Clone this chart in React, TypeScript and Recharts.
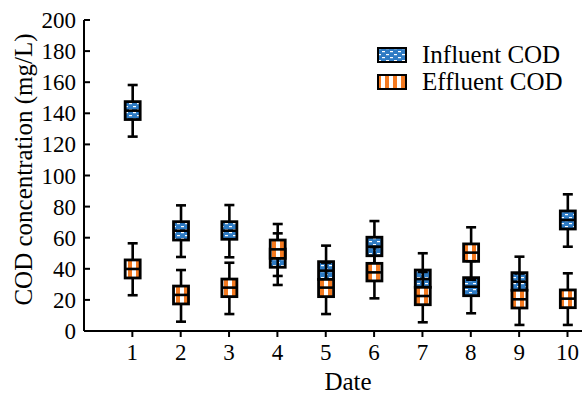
import React from 'react';
import { ComposedChart, Bar, XAxis, YAxis } from 'recharts';

// COD box statistics per sampling date (mg/L)
const days = [1, 2, 3, 4, 5, 6, 7, 8, 9, 10];

const influentMin = [125, 47.6, 47.4, 29.6, 25, 38, 20, 11.4, 16, 54.2];
const influentQ1 = [136, 58.5, 59, 41, 33.2, 48.4, 28.1, 22.7, 26.2, 65.6];
const influentMedian = [141.7, 64.5, 64.5, 47, 38.8, 54.2, 33.4, 28.5, 31.7, 71.4];
const influentQ3 = [147.5, 70.3, 70.3, 52.7, 44.6, 60.3, 39.2, 34.3, 37.5, 77.2];
const influentMax = [158.2, 80.8, 81, 62.8, 54.9, 70.7, 50, 45, 47.8, 87.9];

const effluentMin = [23, 6, 10.9, 35.4, 10.9, 21, 5.6, 33, 3.9, 3.9];
const effluentQ1 = [34.1, 17.4, 22.1, 46.7, 22.1, 32.2, 16.9, 44.8, 14.8, 15];
const effluentMedian = [39.9, 23.2, 27.9, 52.5, 27.9, 37.7, 22.5, 50.4, 20.4, 20.8];
const effluentQ3 = [45.7, 28.9, 33.4, 58.5, 33.2, 43.5, 28.1, 56, 26.2, 26.4];
const effluentMax = [56.4, 39.2, 43.9, 68.8, 44, 54, 38, 66.7, 37, 37.1];

const yTicks = [0, 20, 40, 60, 80, 100, 120, 140, 160, 180, 200];

const data = days.map((day, i) => ({
  day,
  inMin: influentMin[i],
  inQ1: influentQ1[i],
  inMed: influentMedian[i],
  inQ3: influentQ3[i],
  inMax: influentMax[i],
  efMin: effluentMin[i],
  efQ1: effluentQ1[i],
  efMed: effluentMedian[i],
  efQ3: effluentQ3[i],
  efMax: effluentMax[i],
}));

const FONT = '"Liberation Serif", "Times New Roman", serif';
const BLUE = '#2e7bc4';
const ORANGE = '#f47a20';

// box drawn from the range bar rect; whiskers/median use the same px-per-unit
const makeBox = (p: string, fill: string) => (props: any) => {
  const { x, y, width, height, payload } = props;
  if (!payload || x == null) return <g />;
  const top = Math.min(y, y + height);
  const h = Math.abs(height);
  const q1 = payload[p + 'Q1'];
  const q3 = payload[p + 'Q3'];
  const ppu = h / (q3 - q1);
  const cx = x + width / 2;
  const yMax = top - (payload[p + 'Max'] - q3) * ppu;
  const yMin = top + h + (q1 - payload[p + 'Min']) * ppu;
  const yMed = top + (q3 - payload[p + 'Med']) * ppu;
  return (
    <g>
      <line x1={cx} x2={cx} y1={yMax} y2={yMin} stroke="#000" strokeWidth={2.6} />
      <line x1={cx - 5} x2={cx + 5} y1={yMax} y2={yMax} stroke="#000" strokeWidth={2.6} />
      <line x1={cx - 5} x2={cx + 5} y1={yMin} y2={yMin} stroke="#000" strokeWidth={2.6} />
      <rect x={x} y={top} width={width} height={h} fill={fill} stroke="#000" strokeWidth={2.8} />
      <line x1={x} x2={x + width} y1={yMed} y2={yMed} stroke="#000" strokeWidth={2.6} />
    </g>
  );
};

const InfluentBox = makeBox('in', 'url(#influentFill)');
const EffluentBox = makeBox('ef', 'url(#effluentFill)');

const textStyle = { fontFamily: FONT, fill: '#000' };

const YTick = (props: any) => {
  const { x, y, payload } = props;
  return (
    <g>
      <line x1={x + 8} x2={x + 14} y1={y} y2={y} stroke="#000" strokeWidth={2} />
      <text x={x} y={y} dy="0.35em" textAnchor="end" style={{ ...textStyle, fontSize: 23 }}>
        {payload.value}
      </text>
    </g>
  );
};

const XTick = (props: any) => {
  const { x, y, payload } = props;
  return (
    <text x={x} y={y} dy="0.71em" textAnchor="middle" style={{ ...textStyle, fontSize: 23 }}>
      {payload.value}
    </text>
  );
};

const YTitle = (props: any) => {
  const vb = props.viewBox || { x: 0, y: 20, width: 84, height: 311 };
  const cx = 23;
  const cy = vb.y + vb.height / 2 - 6;
  return (
    <text
      x={cx}
      y={cy}
      transform={`rotate(-90, ${cx}, ${cy})`}
      textAnchor="middle"
      dominantBaseline="central"
      style={{ ...textStyle, fontSize: 25 }}
    >
      COD concentration (mg/L)
    </text>
  );
};

const XTitle = (props: any) => {
  const vb = props.viewBox || { x: 84, y: 331, width: 498, height: 63 };
  return (
    <text x={vb.x + vb.width / 2 + 15} y={vb.y + vb.height - 4} textAnchor="middle" style={{ ...textStyle, fontSize: 25 }}>
      Date
    </text>
  );
};

const Patterns = ({ suffix = '' }: { suffix?: string }) => (
  <defs>
    <pattern id={'influentFill' + suffix} width={8} height={6} patternUnits="userSpaceOnUse">
      <rect width={8} height={6} fill={BLUE} />
      <rect x={1} y={1} width={3} height={1.2} fill="#fff" />
      <rect x={5} y={4} width={3} height={1.2} fill="#fff" />
    </pattern>
    <pattern id={'effluentFill' + suffix} width={8} height={8} patternUnits="userSpaceOnUse">
      <rect width={8} height={8} fill="#fff" />
      <rect x={0} width={4} height={8} fill={ORANGE} />
    </pattern>
  </defs>
);

const legendItems = [
  { label: 'Influent COD', fill: 'url(#influentFillL)' },
  { label: 'Effluent COD', fill: 'url(#effluentFillL)' },
];

export default function App() {
  return (
    <div style={{ position: 'absolute', left: 0, top: 0, width: 582, height: 394, background: '#fff' }}>
      <ComposedChart width={582} height={394} data={data} margin={{ top: 20, right: 0, bottom: 0, left: 0 }}>
        <Patterns />
        <XAxis
          xAxisId="in"
          dataKey="day"
          type="number"
          domain={[0, 10.3]}
          ticks={days}
          allowDataOverflow
          height={63}
          axisLine={{ stroke: '#000', strokeWidth: 2 }}
          tickLine={{ stroke: '#000', strokeWidth: 2 }}
          tickSize={6}
          tickMargin={7}
          tick={<XTick />}
          label={{ content: XTitle }}
        />
        <XAxis
          xAxisId="ef"
          orientation="top"
          dataKey="day"
          type="number"
          domain={[0, 10.3]}
          allowDataOverflow
          height={0}
          hide
        />
        <YAxis
          domain={[0, 200]}
          ticks={yTicks}
          width={84}
          axisLine={{ stroke: '#000', strokeWidth: 2 }}
          tickLine={false}
          tickSize={0}
          tickMargin={8}
          tick={<YTick />}
          label={{ content: YTitle }}
        />
        <Bar
          xAxisId="in"
          dataKey={(d: any) => [d.inQ1, d.inQ3]}
          barSize={15}
          shape={InfluentBox}
          isAnimationActive={false}
        />
        <Bar
          xAxisId="ef"
          dataKey={(d: any) => [d.efQ1, d.efQ3]}
          barSize={15}
          shape={EffluentBox}
          isAnimationActive={false}
        />
      </ComposedChart>
      <div style={{ position: 'absolute', left: 377, top: 41, fontFamily: FONT, fontSize: 25, color: '#000' }}>
        {legendItems.map((item) => (
          <div key={item.label} style={{ display: 'flex', alignItems: 'center', height: 27, lineHeight: '27px' }}>
            <svg width={30} height={16} style={{ marginRight: 15 }}>
              <Patterns suffix="L" />
              <rect x={1} y={1} width={28} height={14} fill={item.fill} stroke="#000" strokeWidth={2} />
            </svg>
            <span style={{ whiteSpace: 'nowrap' }}>{item.label}</span>
          </div>
        ))}
      </div>
    </div>
  );
}
